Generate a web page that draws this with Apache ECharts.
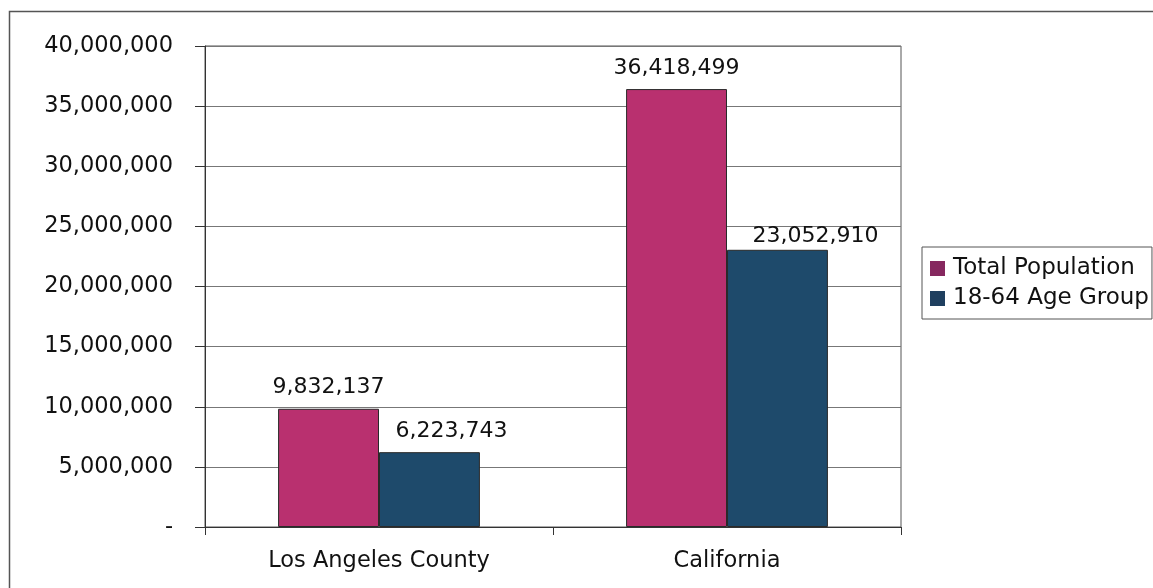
<!DOCTYPE html>
<html>
<head>
<meta charset="utf-8">
<script src="https://cdn.jsdelivr.net/npm/echarts@6/dist/echarts.min.js"></script>
<style>
html,body{margin:0;padding:0;background:#fff;}
#chart{width:1153px;height:588px;}
</style>
</head>
<body>
<div id="chart"></div>
<script>
const categories = ["Los Angeles County", "California"];
const totalPopulation = [9832137, 36418499];
const ageGroup18to64 = [6223743, 23052910];
const seriesNames = ["Total Population", "18-64 Age Group"];
const yTicks = [0, 5000000, 10000000, 15000000, 20000000, 25000000, 30000000, 35000000, 40000000];

const FONT = "'DejaVu Sans', Verdana, sans-serif";
const fmt = v => v === 0 ? "-" : v.toLocaleString("en-US");

const chart = echarts.init(document.getElementById('chart'), null, {renderer: 'canvas'});
const labelBase = {show: true, position: 'top', distance: 10, fontFamily: FONT, fontSize: 22, color: '#111', formatter: p => fmt(p.value)};
chart.setOption({
  animation: false,
  backgroundColor: '#ffffff',
  textStyle: {fontFamily: FONT},
  graphic: [{
    type: 'rect', shape: {x: 9.5, y: 11.5, width: 1160, height: 600},
    style: {fill: 'none', stroke: '#555', lineWidth: 1.5}, silent: true
  }],
  grid: {left: 205, right: 252, top: 46, bottom: 61, show: true, borderColor: '#555', borderWidth: 1},
  legend: {
    orient: 'vertical', left: 922, top: 247,
    data: [
      {name: seriesNames[0], itemStyle: {color: '#86285f'}},
      {name: seriesNames[1], itemStyle: {color: '#1f3f5f'}}
    ],
    itemWidth: 15, itemHeight: 15, itemGap: 7,
    padding: [10, 3, 9, 8],
    borderColor: '#555', borderWidth: 1,
    icon: 'rect',
    itemStyle: {borderWidth: 0},
    textStyle: {fontFamily: FONT, fontSize: 23, color: '#111', padding: [0, 0, 0, 3]}
  },
  xAxis: {
    type: 'category', data: categories,
    axisLine: {lineStyle: {color: '#333', width: 1}},
    axisTick: {show: true, length: 8, lineStyle: {color: '#333'}},
    axisLabel: {fontFamily: FONT, fontSize: 22.5, color: '#111', margin: 23}
  },
  yAxis: {
    type: 'value', min: 0, max: 40000000, interval: 5000000,
    axisLine: {show: true, lineStyle: {color: '#333', width: 1}},
    axisTick: {show: true, length: 10, lineStyle: {color: '#333'}},
    splitLine: {lineStyle: {color: '#777', width: 1}},
    axisLabel: {fontFamily: FONT, fontSize: 22.5, color: '#111', margin: 32, formatter: fmt}
  },
  series: [
    {
      name: seriesNames[0], type: 'bar', data: totalPopulation,
      barGap: '0%', barCategoryGap: '42%',
      itemStyle: {color: '#b9306f', borderColor: '#2a2a2a', borderWidth: 1},
      label: labelBase
    },
    {
      name: seriesNames[1], type: 'bar',
      data: ageGroup18to64.map((v, i) => i === 0
        ? {value: v, label: {offset: [22, 0]}}
        : {value: v, label: {offset: [38, 7]}}),
      barGap: '0%', barCategoryGap: '42%',
      itemStyle: {color: '#1e4a6b', borderColor: '#2a2a2a', borderWidth: 1},
      label: labelBase
    }
  ]
});
</script>
</body>
</html>
